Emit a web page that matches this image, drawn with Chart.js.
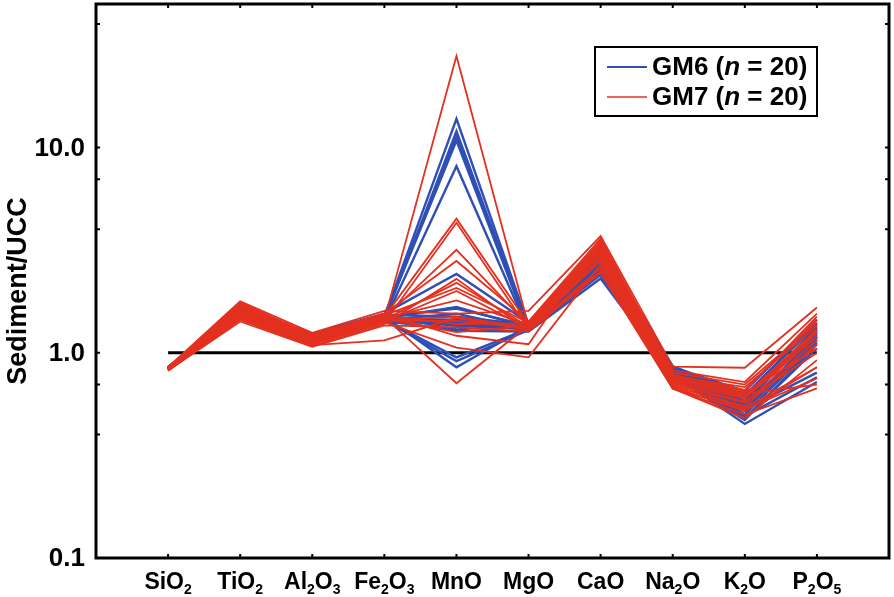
<!DOCTYPE html>
<html>
<head>
<meta charset="utf-8">
<script src="https://cdn.jsdelivr.net/npm/chart.js@4"></script>
<style>
  html, body { margin: 0; padding: 0; background: #fff; }
  #wrap { width: 894px; height: 597px; }
</style>
</head>
<body>
<div id="wrap"><canvas id="spider" width="894" height="597"></canvas></div>
<script>
// oxides along the x axis (digits are drawn as subscripts)
const categories = ['SiO2', 'TiO2', 'Al2O3', 'Fe2O3', 'MnO', 'MgO', 'CaO', 'Na2O', 'K2O', 'P2O5'];

// y axis: tick marks and labelled ticks
const yTickMarks = [0.1, 0.4, 0.7, 1, 4, 7, 10, 40];
const yTickValues = [0.1, 1, 10];
const yTickLabels = ['0.1', '1.0', '10.0'];

// reference line at 1
const refLine = [1, 1];

// GM6 (n = 20), normalised to UCC
const gm6 = [
  [0.84, 1.60, 1.20, 1.50, 13.8, 1.35, 3.00, 0.82, 0.55, 1.20],
  [0.83, 1.55, 1.18, 1.45, 12.0, 1.32, 2.90, 0.80, 0.52, 1.25],
  [0.85, 1.62, 1.22, 1.52, 11.3, 1.38, 3.10, 0.84, 0.58, 1.30],
  [0.84, 1.58, 1.19, 1.48, 10.8, 1.30, 2.80, 0.78, 0.50, 1.15],
  [0.83, 1.52, 1.16, 1.42, 8.1, 1.28, 2.60, 0.76, 0.47, 1.10],
  [0.85, 1.65, 1.24, 1.55, 2.42, 1.40, 3.30, 0.86, 0.62, 1.40],
  [0.84, 1.57, 1.20, 1.47, 1.67, 1.33, 2.70, 0.81, 0.56, 1.35],
  [0.84, 1.60, 1.21, 1.50, 1.64, 1.36, 2.95, 0.83, 0.60, 1.28],
  [0.83, 1.55, 1.17, 1.44, 1.55, 1.30, 2.50, 0.79, 0.53, 0.80],
  [0.85, 1.63, 1.23, 1.53, 1.50, 1.37, 3.20, 0.85, 0.65, 1.45],
  [0.84, 1.58, 1.19, 1.46, 1.45, 1.33, 2.85, 0.80, 0.54, 1.22],
  [0.83, 1.53, 1.16, 1.41, 1.40, 1.29, 2.40, 0.77, 0.49, 0.76],
  [0.84, 1.59, 1.20, 1.49, 1.35, 1.34, 2.75, 0.82, 0.57, 1.32],
  [0.85, 1.61, 1.22, 1.51, 1.30, 1.36, 3.05, 0.84, 0.62, 1.38],
  [0.83, 1.54, 1.17, 1.43, 1.28, 1.27, 2.30, 0.78, 0.45, 0.72],
  [0.84, 1.57, 1.21, 1.48, 1.42, 1.32, 2.65, 0.81, 0.52, 1.18],
  [0.84, 1.56, 1.18, 1.45, 0.95, 1.31, 2.55, 0.80, 0.50, 1.12],
  [0.83, 1.54, 1.17, 1.44, 0.91, 1.29, 2.45, 0.79, 0.48, 1.05],
  [0.85, 1.60, 1.21, 1.50, 0.85, 1.35, 2.90, 0.82, 0.58, 1.26],
  [0.84, 1.58, 1.19, 1.47, 1.38, 1.33, 2.80, 0.81, 0.55, 1.20]
];

// GM7 (n = 20), normalised to UCC
const gm7 = [
  [0.83, 1.55, 1.15, 1.45, 27.9, 1.35, 3.00, 0.72, 0.60, 1.20],
  [0.84, 1.70, 1.20, 1.50, 4.5, 1.38, 3.40, 0.76, 0.65, 1.50],
  [0.82, 1.48, 1.10, 1.40, 4.3, 1.30, 2.80, 0.69, 0.55, 1.10],
  [0.83, 1.60, 1.18, 1.48, 3.17, 1.36, 3.20, 0.74, 0.62, 1.30],
  [0.84, 1.75, 1.22, 1.55, 2.80, 1.42, 3.60, 0.80, 0.70, 1.40],
  [0.82, 1.45, 1.08, 1.38, 2.29, 1.28, 2.60, 0.68, 0.52, 0.85],
  [0.83, 1.58, 1.15, 1.45, 2.19, 1.34, 3.10, 0.72, 0.60, 1.25],
  [0.84, 1.65, 1.20, 1.52, 2.07, 1.40, 3.50, 0.77, 0.68, 1.35],
  [0.82, 1.50, 1.12, 1.42, 2.00, 1.31, 2.90, 0.70, 0.57, 1.15],
  [0.83, 1.62, 1.17, 1.47, 1.80, 1.37, 3.30, 0.73, 0.63, 0.70],
  [0.85, 1.78, 1.25, 1.60, 1.55, 1.60, 3.70, 0.855, 0.845, 1.66],
  [0.82, 1.46, 1.09, 1.15, 1.48, 1.29, 2.50, 0.67, 0.50, 0.67],
  [0.83, 1.56, 1.14, 1.43, 1.43, 1.33, 3.00, 0.71, 0.58, 1.00],
  [0.84, 1.68, 1.21, 1.51, 1.38, 1.39, 3.45, 0.78, 0.66, 1.45],
  [0.82, 1.42, 1.07, 1.36, 1.33, 1.27, 2.45, 0.67, 0.48, 0.92],
  [0.83, 1.60, 1.16, 1.46, 1.26, 1.35, 3.15, 0.74, 0.61, 1.28],
  [0.84, 1.72, 1.23, 1.54, 1.21, 1.10, 3.55, 0.82, 0.72, 1.55],
  [0.82, 1.52, 1.11, 1.41, 1.06, 0.95, 2.70, 0.69, 0.54, 0.85],
  [0.83, 1.64, 1.19, 1.49, 0.71, 1.36, 3.25, 0.75, 0.64, 1.05],
  [0.84, 1.54, 1.13, 1.44, 1.50, 1.32, 2.85, 0.67, 0.53, 0.75]
];

const BLUE = '#2f4fb5';
const RED = '#e4301f';
const FONT = '"Liberation Sans", Arial, Helvetica, sans-serif';

function toPoints(row) {
  return row.map((v, i) => ({ x: i, y: v }));
}

const datasets = [];
gm7.forEach(row => datasets.push({ data: toPoints(row), borderColor: RED, borderWidth: 1.8, order: 0 }));
gm6.forEach(row => datasets.push({ data: toPoints(row), borderColor: BLUE, borderWidth: 2.4, order: 1 }));
datasets.push({
  data: [{ x: 0, y: refLine[0] }, { x: categories.length - 1, y: refLine[1] }],
  borderColor: '#000', borderWidth: 3, order: 2
});

// draw text where digits become subscripts
function drawChem(ctx, text, cx, baseY, size) {
  const parts = text.match(/[A-Za-z]+|\d+/g);
  const sub = Math.round(size * 0.62);
  let w = 0;
  parts.forEach(p => {
    ctx.font = 'bold ' + (/\d/.test(p) ? sub : size) + 'px ' + FONT;
    w += ctx.measureText(p).width;
  });
  let x = cx - w / 2;
  ctx.textAlign = 'left';
  ctx.textBaseline = 'alphabetic';
  parts.forEach(p => {
    const isSub = /\d/.test(p);
    ctx.font = 'bold ' + (isSub ? sub : size) + 'px ' + FONT;
    ctx.fillText(p, x, baseY + (isSub ? 5 : 0));
    x += ctx.measureText(p).width;
  });
}

const framePlugin = {
  id: 'frame',
  afterDraw(chart) {
    const ctx = chart.ctx;
    const a = chart.chartArea;
    const xs = chart.scales.x;
    const ys = chart.scales.y;
    ctx.save();
    ctx.fillStyle = '#000';
    ctx.strokeStyle = '#000';

    // frame
    ctx.lineWidth = 3;
    ctx.strokeRect(a.left, a.top, a.right - a.left, a.bottom - a.top);

    // inward ticks
    ctx.lineWidth = 2;
    ctx.beginPath();
    categories.forEach((c, i) => {
      const px = xs.getPixelForValue(i);
      ctx.moveTo(px, a.bottom); ctx.lineTo(px, a.bottom - 4);
      ctx.moveTo(px, a.top); ctx.lineTo(px, a.top + 4);
    });
    yTickMarks.forEach(v => {
      const py = ys.getPixelForValue(v);
      ctx.moveTo(a.left, py); ctx.lineTo(a.left + 4, py);
      ctx.moveTo(a.right, py); ctx.lineTo(a.right - 4, py);
    });
    ctx.stroke();

    // y labels
    ctx.font = 'bold 26px ' + FONT;
    ctx.textAlign = 'right';
    ctx.textBaseline = 'middle';
    yTickValues.forEach((v, i) => {
      ctx.fillText(yTickLabels[i], a.left - 11, ys.getPixelForValue(v) + 1);
    });

    // x labels
    categories.forEach((c, i) => {
      drawChem(ctx, c, xs.getPixelForValue(i), a.bottom + 31, 23);
    });

    // y title
    ctx.save();
    ctx.translate(19, (a.top + a.bottom) / 2 + 10);
    ctx.rotate(-Math.PI / 2);
    ctx.font = 'bold 27px ' + FONT;
    ctx.textAlign = 'center';
    ctx.textBaseline = 'middle';
    ctx.fillText('Sediment/UCC', 0, 0);
    ctx.restore();

    // legend
    const lx = 595, ly = 47, lw = 222, lh = 69;
    ctx.fillStyle = '#fff';
    ctx.fillRect(lx, ly, lw, lh);
    ctx.lineWidth = 2;
    ctx.strokeStyle = '#000';
    ctx.strokeRect(lx, ly, lw, lh);
    const rows = [
      { name: 'GM6', color: BLUE, width: 2, y: 67 },
      { name: 'GM7', color: RED, width: 1.6, y: 97 }
    ];
    rows.forEach(r => {
      ctx.strokeStyle = r.color;
      ctx.lineWidth = r.width;
      ctx.beginPath();
      ctx.moveTo(607, r.y); ctx.lineTo(647, r.y);
      ctx.stroke();
      ctx.fillStyle = '#000';
      ctx.textAlign = 'left';
      ctx.textBaseline = 'middle';
      let x = 652;
      const seg = [
        [r.name + ' (', 'bold '],
        ['n', 'italic bold '],
        [' = 20)', 'bold ']
      ];
      seg.forEach(s => {
        ctx.font = s[1] + '26px ' + FONT;
        ctx.fillText(s[0], x, r.y + 1);
        x += ctx.measureText(s[0]).width;
      });
    });
    ctx.restore();
  }
};

new Chart(document.getElementById('spider'), {
  type: 'line',
  data: { datasets },
  options: {
    responsive: false,
    animation: false,
    layout: { padding: { left: 88, top: 4, right: 5, bottom: 31 } },
    elements: { point: { radius: 0 }, line: { tension: 0 } },
    plugins: { legend: { display: false }, tooltip: { enabled: false } },
    scales: {
      x: {
        type: 'linear', min: -1, max: categories.length,
        grid: { display: false }, border: { display: false },
        ticks: { display: false }
      },
      y: {
        type: 'logarithmic', min: 0.1, max: 50,
        grid: { display: false }, border: { display: false },
        ticks: { display: false }
      }
    }
  },
  plugins: [framePlugin]
});
</script>
</body>
</html>
